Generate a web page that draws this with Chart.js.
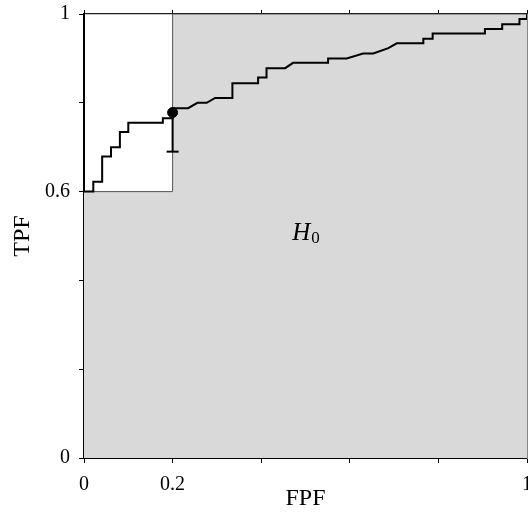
<!DOCTYPE html>
<html>
<head>
<meta charset="utf-8">
<script src="https://cdn.jsdelivr.net/npm/chart.js@4"></script>
<style>
  html, body { margin: 0; padding: 0; overflow: hidden; background: #fff; }
  canvas { display: block; }
</style>
</head>
<body>
<canvas id="grafico" width="560" height="515"></canvas>
<script>
// ROC step curve (FPF, TPF) vertices
var fpf = [0, 0.021, 0.021, 0.041, 0.041, 0.061, 0.061, 0.081, 0.081, 0.100, 0.100, 0.178, 0.178, 0.2, 0.2,
           0.235, 0.256, 0.277, 0.296, 0.335, 0.335, 0.393, 0.393, 0.412, 0.412, 0.454, 0.472, 0.551, 0.551,
           0.593, 0.630, 0.653, 0.687, 0.706, 0.766, 0.766, 0.787, 0.787, 0.905, 0.905, 0.944, 0.944, 0.983,
           0.983, 1, 1];
var tpf = [0.6, 0.6, 0.622, 0.622, 0.679, 0.679, 0.700, 0.700, 0.734, 0.734, 0.755, 0.755, 0.765, 0.765, 0.788,
           0.788, 0.800, 0.800, 0.811, 0.811, 0.844, 0.844, 0.857, 0.857, 0.878, 0.878, 0.890, 0.890, 0.900,
           0.900, 0.911, 0.911, 0.923, 0.934, 0.934, 0.944, 0.944, 0.956, 0.956, 0.966, 0.966, 0.977, 0.977,
           0.989, 0.989, 1];

// operating point and its lower bound
var pontoFpf = [0.2];
var pontoTpf = [0.778];
var limiteInferior = [0.690];

// boundary of the H0 region (filled down to TPF = 0)
var regiaoFpf = [0, 0.2, 0.2, 1];
var regiaoTpf = [0.6, 0.6, 1, 1];

var xTicks = [0, 0.2, 0.4, 0.6, 0.8, 1];
var xTickLabels = ['0', '0.2', '', '', '', '1'];
var yTicks = [0, 0.2, 0.4, 0.6, 0.8, 1];
var yTickLabels = ['0', '', '', '0.6', '', '1'];

var serif = '"Liberation Serif", "DejaVu Serif", serif';

var curva = fpf.map(function (v, i) { return { x: v, y: tpf[i] }; });
var regiao = regiaoFpf.map(function (v, i) { return { x: v, y: regiaoTpf[i] }; });
var ponto = pontoFpf.map(function (v, i) { return { x: v, y: pontoTpf[i] }; });
var barra = [{ x: pontoFpf[0], y: pontoTpf[0] }, { x: pontoFpf[0], y: limiteInferior[0] }];

// H0 label inside the grey region
var rotuloH0 = {
    id: 'rotuloH0',
    afterDatasetsDraw: function (chart) {
        var ctx = chart.ctx;
        var x = chart.scales.x.getPixelForValue(0.47);
        var y = chart.scales.y.getPixelForValue(0.492);
        ctx.save();
        ctx.fillStyle = '#000';
        ctx.textBaseline = 'alphabetic';
        ctx.textAlign = 'left';
        ctx.font = 'italic 25px ' + serif;
        ctx.fillText('H', x, y);
        var w = ctx.measureText('H').width;
        ctx.font = '17px ' + serif;
        ctx.fillText('0', x + w + 1, y + 3);
        ctx.restore();
    }
};

function ticksFixos(valores) {
    return function (scale) {
        scale.ticks = valores.map(function (v) { return { value: v }; });
    };
}

var ctx = document.getElementById('grafico').getContext('2d');
new Chart(ctx, {
    type: 'scatter',
    data: {
        datasets: [
            {
                data: ponto,
                pointRadius: 5,
                pointBackgroundColor: '#000',
                pointBorderColor: '#000',
                showLine: false
            },
            {
                data: barra,
                showLine: true,
                borderColor: '#000',
                borderWidth: 2,
                pointStyle: 'line',
                pointRadius: [0, 6],
                pointBorderColor: '#000',
                pointBorderWidth: 2,
                fill: false
            },
            {
                data: curva,
                showLine: true,
                borderColor: '#000',
                borderWidth: 2,
                pointRadius: 0,
                fill: false
            },
            {
                data: regiao,
                showLine: true,
                borderColor: '#555',
                borderWidth: 1,
                pointRadius: 0,
                backgroundColor: '#d9d9d9',
                fill: 'origin'
            }
        ]
    },
    options: {
        responsive: false,
        animation: false,
        layout: { padding: { left: 0, right: 33, top: 0, bottom: 0 } },
        plugins: {
            legend: { display: false },
            tooltip: { enabled: false }
        },
        scales: {
            x: {
                type: 'linear', position: 'bottom', min: 0, max: 1, z: 1,
                afterBuildTicks: ticksFixos(xTicks),
                afterFit: function (s) { s.height = 57; s.paddingLeft = 0; s.paddingRight = 0; },
                grid: { drawOnChartArea: false, drawTicks: true, tickLength: 5, color: '#000', lineWidth: 1 },
                border: { display: true, color: '#000', width: 2 },
                ticks: {
                    padding: 10, maxRotation: 0, autoSkip: false, color: '#000',
                    font: { family: serif, size: 20 },
                    callback: function (v, i) { return xTickLabels[i]; }
                },
                title: {
                    display: true, text: 'FPF', color: '#000',
                    font: { family: serif, size: 24 },
                    padding: { top: 0, bottom: 2 }
                }
            },
            x2: {
                type: 'linear', position: 'top', min: 0, max: 1, z: 1,
                afterBuildTicks: ticksFixos(xTicks),
                afterFit: function (s) { s.height = 14; s.paddingLeft = 0; s.paddingRight = 0; },
                grid: { drawOnChartArea: false, drawTicks: true, tickLength: 4, color: '#000', lineWidth: 1 },
                border: { display: true, color: '#222', width: 1.3 },
                ticks: { display: false }
            },
            y: {
                type: 'linear', position: 'left', min: 0, max: 1, z: 1,
                afterBuildTicks: ticksFixos(yTicks),
                afterFit: function (s) { s.width = 84; s.paddingTop = 0; s.paddingBottom = 0; },
                grid: { drawOnChartArea: false, drawTicks: true, tickLength: 5, color: '#000', lineWidth: 1 },
                border: { display: true, color: '#000', width: 2 },
                ticks: {
                    padding: 9, autoSkip: false, color: '#000',
                    font: { family: serif, size: 20 },
                    callback: function (v, i) { return yTickLabels[i]; }
                },
                title: {
                    display: true, text: 'TPF', color: '#000',
                    font: { family: serif, size: 24 },
                    padding: { top: 8, bottom: 0 }
                }
            },
            y2: {
                type: 'linear', position: 'right', min: 0, max: 1, z: 1,
                afterFit: function (s) { s.width = 0; s.paddingTop = 0; s.paddingBottom = 0; },
                grid: { display: false, drawTicks: false },
                border: { display: true, color: '#888', width: 1 },
                ticks: { display: false }
            }
        }
    },
    plugins: [rotuloH0]
});
</script>
</body>
</html>
